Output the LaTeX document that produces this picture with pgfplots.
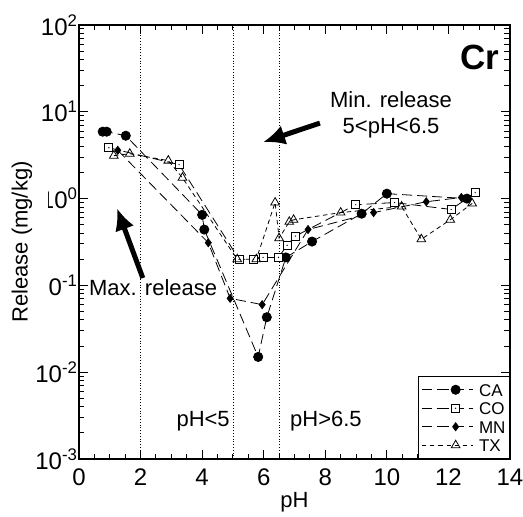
\documentclass[border=0pt]{standalone}
\usepackage{fontspec}
\setmainfont{Liberation Sans}
\usepackage{pgfplots}
\pgfplotsset{compat=1.18}
\usetikzlibrary{arrows.meta}
\pgfdeclareplotmark{sqdot}{%
  \pgfpathrectangle{\pgfpoint{-\pgfplotmarksize}{-\pgfplotmarksize}}{\pgfpoint{2\pgfplotmarksize}{2\pgfplotmarksize}}%
  \pgfusepathqfillstroke
  \begin{pgfscope}\pgfpathcircle{\pgfpointorigin}{0.7pt}\pgfsetfillcolor{black}\pgfusepathqfill\end{pgfscope}}
\begin{document}
\begin{tikzpicture}[x=1pt,y=1pt]
\begin{axis}[
  at={(0pt,0pt)}, anchor=south west, scale only axis,
  width=431pt, height=434pt,
  xmin=0, xmax=14, ymin=1e-3, ymax=1e2, ymode=log,
  xtick={0,2,...,14}, minor x tick num=3,
  ytick={1e-3,1e-2,1e-1,1,1e1,1e2},
  yticklabels={10\textsuperscript{-3},10\textsuperscript{-2},10\textsuperscript{-1},10\textsuperscript{0},10\textsuperscript{1},10\textsuperscript{2}},
  minor ytick={2e-3,3e-3,4e-3,5e-3,6e-3,7e-3,8e-3,9e-3,2e-2,3e-2,4e-2,5e-2,6e-2,7e-2,8e-2,9e-2,0.2,0.3,0.4,0.5,0.6,0.7,0.8,0.9,2,3,4,5,6,7,8,9,20,30,40,50,60,70,80,90},
  tick align=inside, xtick pos=both, ytick pos=both,
  major tick length=9pt, minor tick length=5.5pt,
  axis line style={line width=1.6pt},
  every tick/.style={line width=1pt, black},
  /pgf/number format/assume math mode=true,
  tick label style={font=\fontsize{24}{24}\selectfont},
  yticklabel style={xshift=2pt},
  xticklabel style={yshift=-6pt},
  xlabel={pH}, ylabel={Release (mg/kg)},
  xlabel style={font=\fontsize{22}{22}\selectfont, at={(axis description cs:0.5,-0.1)}, anchor=center},
  ylabel style={font=\fontsize{22}{22}\selectfont, at={(axis description cs:-0.1323,0.5)}, anchor=center, fill=white, inner xsep=1pt, inner ysep=15.5pt},
  legend style={at={(rel axis cs:1,0)}, anchor=south east, draw=black, line width=1pt, fill=white,
    font=\fontsize{17}{17}\selectfont, row sep=4pt, column sep=5pt, inner xsep=3pt, inner ysep=6pt, legend cell align=left,
    nodes={inner sep=1pt, text height=12.5pt, text depth=0pt}},
  legend image code/.code={\path (-17pt,0pt) -- (0pt,0pt); \draw[mark repeat=2,mark phase=2,#1] plot coordinates {(0pt,0pt) (17pt,0pt) (34pt,0pt)};},
  every axis plot/.append style={line width=0.8pt},
  clip=false,
]
\addplot[black, dash pattern=on 10pt off 5pt, mark=*, mark size=4.6pt, mark options={solid, fill=black}] coordinates {
(0.77,5.9) (0.9,5.9) (1.52,5.3) (4.0,0.65) (4.07,0.44) (5.82,0.015) (6.1,0.043) (6.72,0.21) (7.57,0.32) (9.18,0.67) (10.0,1.14) (12.6,1.0)};
\addlegendentry{CA}
\addplot[black, dash pattern=on 10pt off 5pt, mark=sqdot, mark size=4pt, mark options={solid, fill=white}] coordinates {
(0.97,3.85) (3.25,2.46) (5.2,0.20) (5.66,0.20) (5.98,0.21) (6.48,0.21) (6.76,0.29) (7.03,0.37) (8.99,0.85) (10.25,0.90) (12.09,0.75) (12.87,1.17)};
\addlegendentry{CO}
\addplot[black, dash pattern=on 10pt off 5pt, mark=diamond*, mark size=4pt, mark options={solid, fill=black}] coordinates {
(1.26,3.6) (4.2,0.31) (4.91,0.071) (5.95,0.060) (7.44,0.44) (9.57,0.69) (11.28,0.92) (12.42,1.03)};
\addlegendentry{MN}
\addplot[black, dash pattern=on 4.5pt off 3.5pt, mark=triangle, mark size=5pt, mark options={solid, fill=white}] coordinates {
(1.13,3.12) (1.65,3.29) (2.9,2.74) (3.36,1.74) (5.14,0.20) (5.76,0.20) (6.37,0.90) (6.50,0.35) (6.83,0.54) (6.97,0.57) (8.50,0.69) (10.48,0.81) (11.12,0.34) (12.06,0.57) (12.77,0.88)};
\addlegendentry{TX}
% vertical dotted lines
\draw[black, line width=0.8pt, dotted] (axis cs:2,1e-3) -- (axis cs:2,1e2);
\draw[black, line width=0.8pt, dotted] (axis cs:5,1e-3) -- (axis cs:5,1e2);
\draw[black, line width=0.8pt, dotted] (axis cs:6.5,1e-3) -- (axis cs:6.5,1e2);
% annotations
\node[font=\fontsize{35}{35}\selectfont\bfseries] at (rel axis cs:0.930,0.926) {Cr};
\node[font=\fontsize{22}{22}\selectfont] at (rel axis cs:0.724,0.827) {Min. release};
\node[font=\fontsize{22}{22}\selectfont] at (rel axis cs:0.724,0.763) {5<pH<6.5};
\draw[line width=5pt, -{Latex[length=22pt,width=20pt]}] (rel axis cs:0.559,0.774) -- (rel axis cs:0.427,0.730);
\node[font=\fontsize{22}{22}\selectfont] at (rel axis cs:0.172,0.396) {Max. release};
\draw[line width=5pt, -{Latex[length=22pt,width=20pt]}] (rel axis cs:0.148,0.417) -- (rel axis cs:0.088,0.578);
\node[font=\fontsize{22}{22}\selectfont] at (rel axis cs:0.288,0.088) {pH<5};
\node[font=\fontsize{22}{22}\selectfont] at (rel axis cs:0.573,0.088) {pH>6.5};
\end{axis}
\pgfresetboundingbox
\useasboundingbox (-79pt,-58pt) rectangle (444pt,459pt);
\end{tikzpicture}
\end{document}
